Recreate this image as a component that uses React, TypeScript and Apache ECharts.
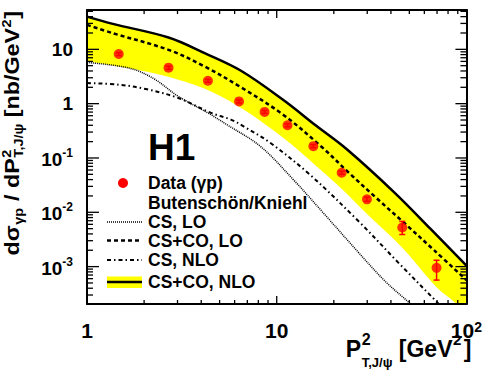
import React, { useEffect, useRef } from "react";
import * as echarts from "echarts";

const FONT = '"Liberation Sans", Arial, Helvetica, sans-serif';

// axis ranges
const X_RANGE = [1, 100];
const Y_RANGE = [2.05e-4, 53];

// tick values and labels
const xTickValues = [1, 10, 100];
const xTickLabels = ["1", "10", "10^2"];
const yTickValues = [1e-3, 1e-2, 1e-1, 1, 10];
const yTickLabels = ["10^-3", "10^-2", "10^-1", "1", "10"];
const xMinorTicks = [2, 3, 4, 5, 6, 7, 8, 9, 20, 30, 40, 50, 60, 70, 80, 90];
const yMinorTicks = [
  3e-4, 4e-4, 5e-4, 6e-4, 7e-4, 8e-4, 9e-4,
  2e-3, 3e-3, 4e-3, 5e-3, 6e-3, 7e-3, 8e-3, 9e-3,
  2e-2, 3e-2, 4e-2, 5e-2, 6e-2, 7e-2, 8e-2, 9e-2,
  0.2, 0.3, 0.4, 0.5, 0.6, 0.7, 0.8, 0.9,
  2, 3, 4, 5, 6, 7, 8, 9,
  20, 30, 40, 50,
];

// H1 data (gamma p)
const dataX = [1.47, 2.69, 4.34, 6.33, 8.63, 11.4, 15.6, 22.0, 29.9, 45.9, 69.6];
const dataY = [8.2, 4.6, 2.64, 1.1, 0.705, 0.4, 0.165, 0.0535, 0.0173, 0.00524, 0.00095];
const dataErrLo = [7.7, 4.3, 2.48, 1.03, 0.66, 0.375, 0.155, 0.05, 0.0159, 0.0039, 0.000565];
const dataErrHi = [8.7, 4.9, 2.8, 1.17, 0.75, 0.425, 0.176, 0.057, 0.0189, 0.0068, 0.00131];

// Butenschoen/Kniehl curves
const csCoNloX = [1, 1.369, 2.69, 4.17, 6.45, 10.8, 16.1, 23.5, 41.9, 64.9, 100];
const csCoNloY = [40.0, 29.4, 16.5, 8.52, 4.08, 1.18, 0.395, 0.143, 0.0228, 0.00488, 0.00104];
const csCoNloLowX = [1, 2.04, 3.03, 4.51, 6.72, 10, 12.7, 15.6, 22.2, 30.4, 46.2, 70.2, 87.4, 108.7];
const csCoNloLowY = [6.02, 3.91, 2.76, 1.68, 0.776, 0.29, 0.149, 0.0792, 0.0264, 0.00881, 0.00218, 4.04e-4, 2.14e-4, 8.5e-5];
const csCoLoX = [1, 1.369, 2.69, 4.17, 6.45, 10.8, 17.1, 24.0, 33.0, 47.2, 67.5, 100];
const csCoLoY = [28.2, 19.8, 9.79, 4.83, 2.02, 0.628, 0.1646, 0.0535, 0.01925, 0.00628, 0.00201, 5.65e-4];
const csLoX = [1, 1.67, 2.25, 3.03, 4.34, 5.51, 8.19, 12.2, 18.2, 26.9, 37.2, 50.1, 63.6];
const csLoY = [5.73, 4.52, 2.88, 1.36, 0.675, 0.403, 0.1646, 0.0403, 0.00855, 0.001845, 5.42e-4, 2.14e-4, 9.8e-5];
const csNloX = [1, 1.48, 2.04, 3.03, 4.51, 5.73, 6.72, 9.2, 14.9, 27.0, 43.5, 70.2, 85.6];
const csNloY = [2.4, 2.23, 1.86, 1.27, 0.675, 0.509, 0.378, 0.1925, 0.0498, 0.00684, 0.00121, 2.19e-4, 1.09e-4];

type Seg = { t: string; size: number; dy: number; stack?: boolean; gap?: number };

const yTitleSegs: Seg[] = [
  { t: "dσ", size: 21, dy: 0 },
  { t: "γp", size: 13, dy: 4 },
  { t: " / dP", size: 21, dy: 0 },
  { t: "2", size: 13, dy: -7.5 },
  { t: "T,J/ψ", size: 13, dy: 4, stack: true },
  { t: " [nb/GeV", size: 21, dy: 0 },
  { t: "2", size: 13, dy: -7.5 },
  { t: "]", size: 21, dy: 0 },
];
const xTitleSegs: Seg[] = [
  { t: "P", size: 23, dy: 0 },
  { t: "2", size: 16, dy: -12 },
  { t: "T,J/ψ", size: 13, dy: 10, stack: true },
  { t: " [GeV", size: 23, dy: 0 },
  { t: "2", size: 15, dy: -12, gap: 2.5 },
  { t: "]", size: 23, dy: 0 },
];

let measureCtx: CanvasRenderingContext2D | null = null;
function textWidth(t: string, size: number) {
  if (!measureCtx) measureCtx = document.createElement("canvas").getContext("2d");
  if (!measureCtx) return t.length * size * 0.6;
  measureCtx.font = `bold ${size}px ${FONT}`;
  return measureCtx.measureText(t).width;
}
function layoutSegs(segs: Seg[]) {
  let x = 0;
  let start = 0;
  const items: (Seg & { x: number })[] = [];
  for (const s of segs) {
    const w = textWidth(s.t, s.size);
    if (s.stack) {
      items.push({ ...s, x: start });
      x = Math.max(x, start + w);
    } else {
      start = x;
      items.push({ ...s, x });
      x += w + (s.gap ?? 0.5);
    }
  }
  return { items, width: x };
}
function segText(it: Seg & { x: number }, x0: number) {
  return {
    type: "text",
    x: x0 + it.x,
    y: it.dy - 0.35 * it.size,
    silent: true,
    z: 100,
    style: {
      text: it.t,
      fontSize: it.size,
      fontWeight: "bold",
      fontFamily: FONT,
      fill: "#000",
      align: "left",
      verticalAlign: "middle",
    },
  };
}

function fmt(values: number[], labels: string[]) {
  return (v: number) => {
    const i = values.findIndex((t) => Math.abs(Math.log10(v) - Math.log10(t)) < 1e-6);
    if (i < 0) return "";
    const lab = labels[i];
    const k = lab.indexOf("^");
    if (k < 0) return `{p|${lab}}`;
    return `{b|${lab.slice(0, k)}}{s|${lab.slice(k + 1)}}`;
  };
}

function legendText(text: string, y: number) {
  return {
    type: "text",
    x: 148,
    y,
    silent: true,
    z: 100,
    style: { text, fontSize: 17.5, fontWeight: "bold", fontFamily: FONT, fill: "#000", align: "left", verticalAlign: "middle" },
  };
}

export default function App() {
  const ref = useRef<HTMLDivElement>(null);
  useEffect(() => {
    if (!ref.current) return;
    const chart = echarts.init(ref.current, null, { renderer: "svg" });

    const yT = layoutSegs(yTitleSegs);
    const xT = layoutSegs(xTitleSegs);
    const yTitleScale = 245 / yT.width;

    const SMOOTH = 0.35;
    const lineSeries = (name: string, xs: number[], ys: number[], width: number, type: any, z = 3) => ({
      name,
      type: "line",
      data: xs.map((x, i) => [x, ys[i]]),
      showSymbol: false,
      symbol: "none",
      smooth: SMOOTH,
      clip: true,
      silent: true,
      z,
      lineStyle: { color: "#000", width, type },
    });

    const axisCommon = {
      type: "log",
      logBase: 10,
      z: 10,
      splitLine: { show: false },
      axisTick: { show: false },
      axisLine: { show: true, onZero: false, lineStyle: { color: "#000", width: 2 } },
    };

    const option: any = {
      animation: false,
      backgroundColor: "#fff",
      grid: { left: 87, top: 10, width: 386, height: 294 },
      xAxis: [
        {
          ...axisCommon,
          position: "bottom",
          min: X_RANGE[0],
          max: X_RANGE[1],
          axisLabel: {
            margin: 16,
            formatter: fmt(xTickValues, xTickLabels),
            rich: {
              p: { fontSize: 21, lineHeight: 21, fontWeight: "bold", fontFamily: FONT, color: "#000" },
              b: { fontSize: 21, lineHeight: 21, fontWeight: "bold", fontFamily: FONT, color: "#000" },
              s: { fontSize: 14, lineHeight: 14, fontWeight: "bold", fontFamily: FONT, color: "#000", verticalAlign: "top" },
            },
          },
        },
        { ...axisCommon, position: "top", min: X_RANGE[0], max: X_RANGE[1], axisLabel: { show: false } },
      ],
      yAxis: [
        {
          ...axisCommon,
          position: "left",
          min: Y_RANGE[0],
          max: Y_RANGE[1],
          axisLabel: {
            margin: 14,
            formatter: fmt(yTickValues, yTickLabels),
            rich: {
              p: { fontSize: 19, lineHeight: 19, fontWeight: "bold", fontFamily: FONT, color: "#000" },
              b: { fontSize: 19, lineHeight: 19, padding: [8, 0, 0, 0], verticalAlign: "bottom", fontWeight: "bold", fontFamily: FONT, color: "#000" },
              s: { fontSize: 12, lineHeight: 22, verticalAlign: "top", fontWeight: "bold", fontFamily: FONT, color: "#000" },
            },
          },
        },
        { ...axisCommon, position: "right", min: Y_RANGE[0], max: Y_RANGE[1], axisLabel: { show: false } },
      ],
      series: [
        // yellow band: upper edge filled down, lower edge filled white on top
        {
          ...lineSeries("CS+CO, NLO band upper", csCoNloX, csCoNloY, 0, "solid", 1),
          lineStyle: { width: 0, opacity: 0 },
          areaStyle: { color: "#ffff00", opacity: 1 },
        },
        {
          ...lineSeries("CS+CO, NLO band lower", csCoNloLowX, csCoNloLowY, 0, "solid", 2),
          lineStyle: { width: 0, opacity: 0 },
          areaStyle: { color: "#ffffff", opacity: 1 },
        },
        lineSeries("CS, LO", csLoX, csLoY, 1.5, [1, 1]),
        lineSeries("CS+CO, LO", csCoLoX, csCoLoY, 2.5, [4, 3]),
        lineSeries("CS, NLO", csNloX, csNloY, 2, [4, 3, 1.5, 3]),
        lineSeries("CS+CO, NLO", csCoNloX, csCoNloY, 2.5, "solid"),
        {
          name: "errors",
          type: "custom",
          silent: true,
          z: 4,
          encode: { x: 0, y: 1 },
          data: dataX.map((x, i) => [x, dataY[i], dataErrLo[i], dataErrHi[i]]),
          renderItem: (params: any, api: any) => {
            const x = api.value(0);
            const lo = api.coord([x, api.value(2)]);
            const hi = api.coord([x, api.value(3)]);
            const st = { stroke: "#ff0000", lineWidth: 1.5 };
            return {
              type: "group",
              children: [
                { type: "line", shape: { x1: lo[0], y1: lo[1], x2: hi[0], y2: hi[1] }, style: st },
                { type: "line", shape: { x1: lo[0] - 3, y1: lo[1], x2: lo[0] + 3, y2: lo[1] }, style: st },
                { type: "line", shape: { x1: hi[0] - 3, y1: hi[1], x2: hi[0] + 3, y2: hi[1] }, style: st },
              ],
            };
          },
        },
        {
          name: "Data (γp)",
          type: "scatter",
          silent: true,
          z: 5,
          symbol: "circle",
          symbolSize: 10,
          itemStyle: { color: "#ff0000" },
          data: dataX.map((x, i) => [x, dataY[i]]),
        },
        {
          name: "xticks",
          type: "custom",
          silent: true,
          z: 6,
          encode: { x: 0, y: 1 },
          data: [
            ...xTickValues.filter((v) => v > X_RANGE[0] && v < X_RANGE[1]).map((v) => [v, 1, 1]),
            ...xMinorTicks.map((v) => [v, 1, 0]),
          ],
          renderItem: (params: any, api: any) => {
            const cs = params.coordSys;
            const px = api.coord([api.value(0), 1])[0];
            const len = api.value(2) === 1 ? 8 : 4;
            const bottom = cs.y + cs.height;
            const top = cs.y;
            const st = { stroke: "#000", lineWidth: 1.3 };
            return {
              type: "group",
              children: [
                { type: "line", shape: { x1: px, y1: bottom, x2: px, y2: bottom - len }, style: st },
                { type: "line", shape: { x1: px, y1: top, x2: px, y2: top + len }, style: st },
              ],
            };
          },
        },
        {
          name: "yticks",
          type: "custom",
          silent: true,
          z: 6,
          encode: { x: 0, y: 1 },
          data: [...yTickValues.map((v) => [1, v, 1]), ...yMinorTicks.map((v) => [1, v, 0])],
          renderItem: (params: any, api: any) => {
            const cs = params.coordSys;
            const py = api.coord([1, api.value(1)])[1];
            const major = api.value(2) === 1;
            const left = cs.x;
            const right = cs.x + cs.width;
            const st = { stroke: "#000", lineWidth: 1.3 };
            return {
              type: "group",
              children: [
                { type: "line", shape: { x1: left, y1: py, x2: left + (major ? 12 : 6), y2: py }, style: st },
                { type: "line", shape: { x1: right, y1: py, x2: right - (major ? 11 : 6), y2: py }, style: st },
              ],
            };
          },
        },
      ],
      graphic: [
        {
          type: "text",
          x: 148,
          y: 147,
          silent: true,
          z: 100,
          style: { text: "H1", fontSize: 37, fontWeight: "bold", fontFamily: FONT, fill: "#000", align: "left", verticalAlign: "middle" },
        },
        { type: "circle", silent: true, z: 100, shape: { cx: 123, cy: 183, r: 5 }, style: { fill: "#ff0000" } },
        legendText("Data (γp)", 183),
        legendText("Butenschön/Kniehl", 203),
        { type: "line", silent: true, z: 100, shape: { x1: 107, y1: 222, x2: 142, y2: 222 }, style: { stroke: "#000", lineWidth: 1.5, lineDash: [1, 1] } },
        legendText("CS, LO", 222),
        { type: "line", silent: true, z: 100, shape: { x1: 107, y1: 240.5, x2: 142, y2: 240.5 }, style: { stroke: "#000", lineWidth: 2.5, lineDash: [4, 3] } },
        legendText("CS+CO, LO", 240.5),
        { type: "line", silent: true, z: 100, shape: { x1: 107, y1: 260, x2: 142, y2: 260 }, style: { stroke: "#000", lineWidth: 2, lineDash: [4, 3, 1.5, 3] } },
        legendText("CS, NLO", 260),
        { type: "rect", silent: true, z: 100, shape: { x: 107, y: 276.5, width: 35, height: 11.5 }, style: { fill: "#ffff00" } },
        { type: "line", silent: true, z: 101, shape: { x1: 107, y1: 282, x2: 142, y2: 282 }, style: { stroke: "#000", lineWidth: 2.5 } },
        legendText("CS+CO, NLO", 282),
        {
          type: "group",
          x: 19,
          y: 133,
          rotation: Math.PI / 2,
          scaleX: yTitleScale,
          silent: true,
          children: yT.items.map((it) => segText(it, -yT.width / 2)),
        },
        {
          type: "group",
          x: 0,
          y: 357,
          silent: true,
          children: xT.items.map((it) => segText(it, 472 - xT.width)),
        },
      ],
    };
    chart.setOption(option);
    return () => chart.dispose();
  }, []);
  return (
    <div
      ref={ref}
      style={{ position: "absolute", left: 0, top: 0, width: 485, height: 371, background: "#fff" }}
    />
  );
}
